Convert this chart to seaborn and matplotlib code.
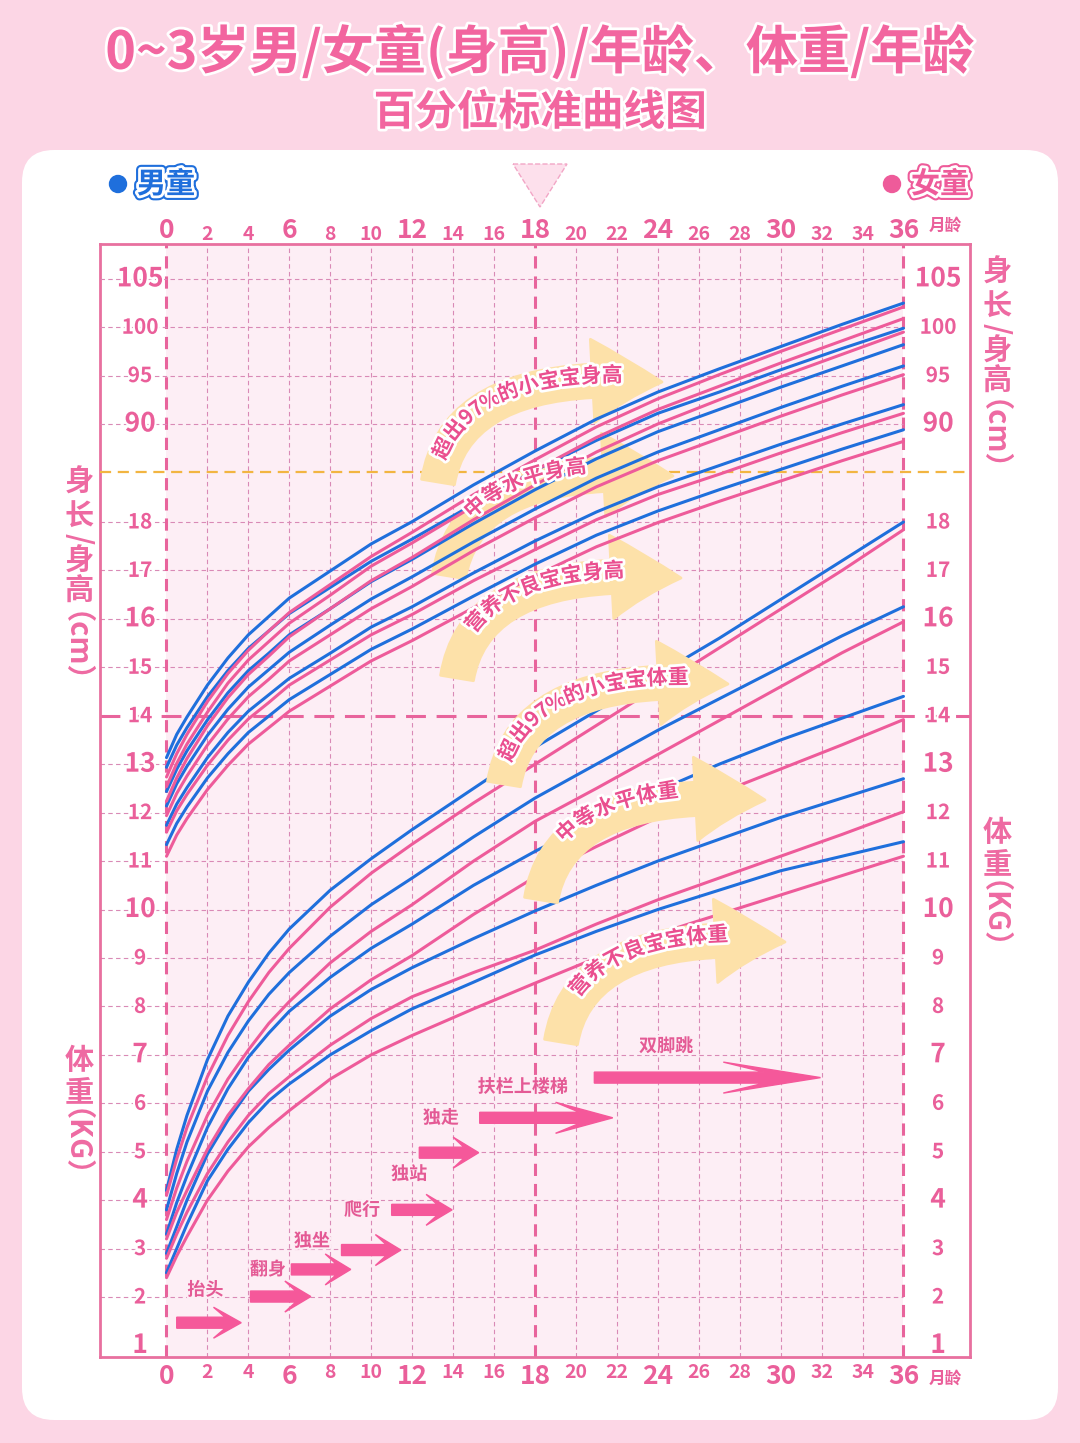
import numpy as np
import pandas as pd
import matplotlib
matplotlib.use("Agg")
import matplotlib.pyplot as plt
import matplotlib.patheffects as pe
import matplotlib.transforms as mtransforms
from matplotlib.patches import FancyBboxPatch, FancyArrowPatch, Polygon, Circle, ArrowStyle
from matplotlib.path import Path
import seaborn as sns

# ---- data ----
months = [0, 0.5, 1, 2, 3, 4, 5, 6, 8, 10, 12, 15, 18, 21, 24, 27, 30, 33, 36]

# height (cm), boys / girls
boy_height = [
    [55.5, 57.9, 59.7, 63.0, 65.8, 68.2, 70.1, 72.0, 74.8, 77.6, 79.9, 83.7, 87.2, 90.5, 93.3, 95.7, 98.0, 100.3, 102.5],
    [54.5, 56.8, 58.6, 61.8, 64.5, 66.8, 68.6, 70.4, 73.1, 75.8, 78.1, 81.7, 85.2, 88.3, 91.1, 93.3, 95.6, 97.8, 99.9],
    [52.0, 54.3, 56.2, 59.4, 62.2, 64.5, 66.3, 68.2, 70.9, 73.7, 76.0, 79.7, 83.2, 86.4, 89.2, 91.5, 93.8, 96.0, 98.2],
    [50.5, 52.8, 54.6, 57.8, 60.5, 62.8, 64.6, 66.4, 69.2, 71.9, 74.2, 77.8, 81.2, 84.4, 87.1, 89.4, 91.7, 93.9, 96.0],
    [48.5, 50.7, 52.4, 55.5, 58.1, 60.3, 62.0, 63.7, 66.3, 69.0, 71.1, 74.6, 77.9, 80.9, 83.5, 85.7, 87.9, 90.0, 92.0],
    [46.5, 48.7, 50.4, 53.4, 55.9, 58.1, 59.8, 61.5, 64.1, 66.7, 68.8, 72.2, 75.5, 78.5, 81.0, 83.2, 85.3, 87.4, 89.4],
]
girl_height = [
    [53.5, 55.9, 57.9, 61.3, 64.2, 66.6, 68.6, 70.5, 73.4, 76.3, 78.8, 82.7, 86.3, 89.7, 92.6, 95.1, 97.5, 99.8, 102.1],
    [52.5, 54.9, 56.9, 60.2, 63.2, 65.6, 67.5, 69.4, 72.3, 75.3, 77.7, 81.5, 85.2, 88.6, 91.5, 93.9, 96.3, 98.6, 100.9],
    [51.0, 53.4, 55.4, 58.8, 61.7, 64.1, 66.0, 68.0, 70.9, 73.8, 76.2, 80.1, 83.7, 87.1, 90.0, 92.5, 94.9, 97.2, 99.5],
    [49.5, 51.8, 53.6, 56.8, 59.5, 61.8, 63.6, 65.5, 68.2, 70.9, 73.2, 76.9, 80.3, 83.5, 86.2, 88.5, 90.8, 93.0, 95.1],
    [47.8, 50.0, 51.7, 54.7, 57.3, 59.5, 61.2, 63.0, 65.6, 68.2, 70.3, 73.8, 77.0, 80.1, 82.7, 84.8, 87.0, 89.1, 91.1],
    [45.3, 47.5, 49.2, 52.2, 54.7, 56.9, 58.6, 60.3, 62.9, 65.5, 67.6, 71.0, 74.3, 77.3, 79.8, 82.0, 84.1, 86.2, 88.2],
]
# weight (kg), boys / girls
boy_weight = [
    [4.2, 5.05, 5.75, 6.9, 7.8, 8.5, 9.1, 9.6, 10.4, 11.05, 11.65, 12.5, 13.35, 14.1, 14.85, 15.6, 16.4, 17.2, 18.0],
    [3.8, 4.55, 5.2, 6.25, 7.05, 7.7, 8.25, 8.7, 9.45, 10.1, 10.65, 11.5, 12.3, 13.0, 13.7, 14.35, 15.0, 15.65, 16.25],
    [3.3, 3.95, 4.5, 5.5, 6.3, 6.95, 7.45, 7.9, 8.6, 9.2, 9.7, 10.5, 11.2, 11.85, 12.45, 13.0, 13.5, 13.95, 14.4],
    [2.9, 3.45, 4.0, 4.95, 5.65, 6.25, 6.7, 7.1, 7.8, 8.35, 8.8, 9.4, 9.97, 10.5, 11.0, 11.45, 11.9, 12.3, 12.7],
    [2.5, 3.0, 3.5, 4.4, 5.05, 5.6, 6.05, 6.4, 7.0, 7.5, 7.95, 8.5, 9.06, 9.55, 10.0, 10.4, 10.8, 11.1, 11.4],
]
girl_weight = [
    [4.1, 4.85, 5.5, 6.55, 7.4, 8.1, 8.7, 9.2, 10.05, 10.75, 11.35, 12.2, 13.0, 13.8, 14.6, 15.4, 16.2, 17.0, 17.84],
    [3.6, 4.25, 4.8, 5.75, 6.5, 7.1, 7.65, 8.1, 8.9, 9.55, 10.1, 11.0, 11.82, 12.5, 13.2, 13.9, 14.6, 15.3, 15.94],
    [3.2, 3.75, 4.2, 5.05, 5.75, 6.3, 6.8, 7.2, 7.95, 8.55, 9.05, 9.9, 10.67, 11.3, 11.9, 12.4, 12.9, 13.4, 13.92],
    [2.8, 3.3, 3.75, 4.55, 5.2, 5.75, 6.2, 6.55, 7.2, 7.75, 8.2, 8.7, 9.16, 9.7, 10.2, 10.65, 11.1, 11.55, 12.02],
    [2.4, 2.85, 3.25, 4.0, 4.6, 5.1, 5.5, 5.85, 6.5, 7.0, 7.4, 7.95, 8.48, 9.0, 9.5, 9.9, 10.3, 10.7, 11.1],
]

month_ticks = list(range(0, 37, 2))
weight_ticks = list(range(1, 19))
height_ticks = [90, 95, 100, 105]
big_weight = [1, 4, 7, 10, 13, 16]
big_height = [90, 105]

# milestone arrows (month start/end, kg level) and labels
ms_start = [0.5, 4.1, 6.1, 8.55, 11.0, 12.35, 15.3, 20.9]
ms_end = [3.65, 7.05, 9.0, 11.45, 13.95, 15.25, 21.8, 31.95]
ms_level = [1.47, 2.01, 2.57, 2.97, 3.80, 4.98, 5.70, 6.53]
ms_labels = ['抬头', '翻身', '独坐', '爬行', '独站', '独走', '扶栏上楼梯', '双脚跳']
ms_label_m = [1.9, 4.95, 7.1, 9.55, 11.85, 13.4, 17.4, 24.4]
ms_label_kg = [2.15, 2.57, 3.16, 3.80, 4.54, 5.70, 6.34, 7.18]

notes = ['超出97%的小宝宝身高', '中等水平身高', '营养不良宝宝身高',
         '超出97%的小宝宝体重', '中等水平体重', '营养不良宝宝体重']

# ---- colours ----
BLUE = '#1f6fdc'
PINK = '#ee5b9a'
TXT = '#ea5f9a'
BORDER = '#e8709f'
GRID = '#d98ab6'
THICK = '#e8649c'
FILL = '#fdeef5'
CREAM = '#fde1a9'
ARROW = '#f5589a'
ORANGE = '#f2b541'

sns.set_theme(style='white')
plt.rcParams['font.family'] = ['Noto Sans CJK SC', 'DejaVu Sans']
plt.rcParams['axes.unicode_minus'] = False

W, H = 1080, 1443
fig = plt.figure(figsize=(W / 100, H / 100), dpi=100, facecolor='#fcd6e5')
pix = mtransforms.Affine2D().scale(0.01, -0.01).translate(0, H / 100) + fig.dpi_scale_trans

# background panel, titles, legend
bg = fig.add_axes([0, 0, 1, 1], zorder=-5)
bg.set_xlim(0, W)
bg.set_ylim(H, 0)
bg.axis('off')
bg.add_patch(FancyBboxPatch((22, 150), 1036, 1270, boxstyle='round,pad=0,rounding_size=32',
                            fc='white', ec='none'))
title_fx = [pe.withStroke(linewidth=4, foreground='white')]
bg.text(540, 52, '0~3岁男/女童(身高)/年龄、体重/年龄', ha='center', va='center', fontsize=37.5,
        fontweight='heavy', color='#f2659f', path_effects=title_fx)
bg.text(540, 113, '百分位标准曲线图', ha='center', va='center', fontsize=30,
        fontweight='heavy', color='#f2659f', path_effects=title_fx)

for cx, col, name in [(118, BLUE, '男童'), (892, PINK, '女童')]:
    bg.add_patch(Circle((cx, 184), 8.5, color=col))
    bg.text(cx + 48, 184, name, ha='center', va='center', fontsize=21, fontweight='heavy', color=col,
            path_effects=[pe.Stroke(linewidth=7, foreground=col), pe.Stroke(linewidth=4, foreground='white'),
                          pe.Normal()])

bg.add_patch(Polygon([(513, 164), (567, 164), (540, 207)], closed=True, fc='#fde0ec', ec='#f2a6c6',
                     ls='--', lw=1))
for yy in (226, 1379):
    bg.text(945, yy, '月龄', ha='center', va='center', fontsize=12, fontweight='bold', color=TXT)


def stack(x, items, size=21):
    for s, y, rot in items:
        dx = -19 if len(s) > 1 else 0
        bg.text(x + dx, y, s, rotation=rot, ha='center', va='center', fontsize=size,
                fontweight='bold', color='#ee6aa2')


stack(79, [('身', 482, 0), ('长', 517, 0), ('/', 539, -90), ('身', 561, 0), ('高', 591, 0), ('（cm）', 662, -90)])
stack(997, [('身', 272, 0), ('长', 307, 0), ('/', 329, -90), ('身', 351, 0), ('高', 381, 0), ('（cm）', 450, -90)])
stack(79, [('体', 1060, 0), ('重', 1092, 0), ('（KG）', 1158, -90)])
stack(997, [('体', 832, 0), ('重', 864, 0), ('（KG）', 930, -90)])

# ---- main axes: weight on ax_w, height on twin ax_h ----
ax_w = fig.add_axes([100 / W, 1 - 1357 / H, 870 / W, 1113 / H])
ax_w.set_facecolor('white')
ax_h = ax_w.twinx()

rows = []
for sex, curves in (('男童', boy_weight), ('女童', girl_weight)):
    for i, vals in enumerate(curves):
        for m, v in zip(months, vals):
            rows.append((m, v, sex, f'{sex}{i}'))
df_w = pd.DataFrame(rows, columns=['month', 'value', 'sex', 'curve'])
rows = []
for sex, curves in (('男童', boy_height), ('女童', girl_height)):
    for i, vals in enumerate(curves):
        for m, v in zip(months, vals):
            rows.append((m, v, sex, f'{sex}{i}'))
df_h = pd.DataFrame(rows, columns=['month', 'value', 'sex', 'curve'])

pal = {'男童': BLUE, '女童': PINK}
sns.lineplot(data=df_w, x='month', y='value', hue='sex', units='curve', estimator=None,
             hue_order=['男童', '女童'], palette=pal, lw=2.2, legend=False, ax=ax_w, zorder=3)
sns.lineplot(data=df_h, x='month', y='value', hue='sex', units='curve', estimator=None,
             hue_order=['男童', '女童'], palette=pal, lw=2.2, legend=False, ax=ax_h, zorder=4)

XL = (-3.248, 39.25)
ax_w.set_xlim(*XL)
ax_w.set_ylim(0.762, 23.739)
ax_h.set_ylim(-6.48, 108.61)
for a in (ax_w, ax_h):
    a.set_xlabel('')
    a.set_ylabel('')
    a.set_yticks([])
for s in ax_h.spines.values():
    s.set_visible(False)
for s in ax_w.spines.values():
    s.set_color(BORDER)
    s.set_linewidth(2)

# pink field and grid
ax_w.axvspan(0, 36, color=FILL, lw=0, zorder=0)
for m in month_ticks:
    if m not in (0, 18, 36):
        ax_w.axvline(m, color=GRID, lw=0.8, ls=(0, (4, 3)), zorder=1)
for w in weight_ticks[1:]:
    if w != 14:
        ax_w.hlines(w, XL[0], 36, color=GRID, lw=0.8, ls=(0, (4, 3)), zorder=1)
for h in height_ticks:
    ax_h.hlines(h, XL[0], 36, color=GRID, lw=0.8, ls=(0, (4, 3)), zorder=1)
for m in (0, 18, 36):
    ax_w.axvline(m, color=THICK, lw=2.2, ls=(0, (4, 2.6)), zorder=2)
ax_w.axhline(14, color=THICK, lw=2.2, ls=(0, (6.5, 3.5)), zorder=2)
ax_h.axhline(85, color=ORANGE, lw=1.6, ls=(0, (5, 3)), zorder=1)

# x tick labels bottom and top
ax_w.set_xticks(month_ticks, labels=[str(m) for m in month_ticks])
ax_w.tick_params(axis='x', length=0, pad=4)
sec = ax_w.secondary_xaxis('top')
sec.set_xticks(month_ticks, labels=[str(m) for m in month_ticks])
sec.tick_params(length=0, pad=0)
for s in sec.spines.values():
    s.set_visible(False)
for lab in list(ax_w.get_xticklabels()) + list(sec.get_xticklabels()):
    big = int(lab.get_text()) % 6 == 0
    lab.set_fontsize(19 if big else 14)
    lab.set_fontweight('bold')
    lab.set_color(TXT)

# y labels inside the frame, both sides
lab_fx = [pe.withStroke(linewidth=3, foreground='white')]
for w in weight_ticks:
    for xm in (-1.29, 37.69):
        ax_w.text(xm, w, str(w), ha='center', va='center', fontsize=19 if w in big_weight else 15,
                  fontweight='bold', color=TXT, zorder=6, path_effects=lab_fx)
for h in height_ticks:
    for xm in (-1.29, 37.69):
        ax_h.text(xm, h, str(h), ha='center', va='center', fontsize=19 if h in big_height else 15,
                  fontweight='bold', color=TXT, zorder=6, path_effects=lab_fx)

# curved cream arrows with text along them
tmpl = np.array([[-224, 100], [-205, -15], [0, 0]], float)
note_tips = [(662, 382), (673, 476), (681, 578), (728, 684), (765, 800), (785, 942)]
note_t0 = [0.1, 0.28, 0.22, 0.1, 0.28, 0.22]
note_off = [5, 10, 6, 5, 10, 6]


def bez(P, t):
    return (1 - t) ** 2 * P[0] + 2 * (1 - t) * t * P[1] + t ** 2 * P[2]


fs = 15
em = fs * 100 / 72
for text, tip, t0, off in zip(notes, note_tips, note_t0, note_off):
    P = tmpl + np.array(tip, float)
    arr = FancyArrowPatch(path=Path(P, [Path.MOVETO, Path.CURVE3, Path.CURVE3]),
                          arrowstyle=ArrowStyle('simple', head_length=50, head_width=60, tail_width=24),
                          mutation_scale=1, transform=pix, fc=CREAM, ec=CREAM, lw=2,
                          joinstyle='round', zorder=2)
    ax_h.add_artist(arr)
    ts = np.linspace(0, 1, 801)
    pts = np.array([bez(P, t) for t in ts])
    s = np.concatenate([[0], np.cumsum(np.hypot(*np.diff(pts, axis=0).T))])
    pos = np.interp(t0, ts, s)
    for ch in text:
        adv = em * (0.6 if ch.isdigit() else (0.85 if ch == '%' else 1.0))
        t = np.interp(pos + adv / 2, s, ts)
        d = 2 * (1 - t) * (P[1] - P[0]) + 2 * t * (P[2] - P[1])
        d = d / np.hypot(*d)
        xy = bez(P, t) + off * np.array([d[1], -d[0]])
        ang = np.degrees(np.arctan2(-d[1], d[0]))
        ax_h.text(xy[0], xy[1], ch, transform=pix, rotation=ang, rotation_mode='anchor',
                  ha='center', va='center', fontsize=fs, fontweight='bold', color='#ea4f8f', zorder=7,
                  path_effects=[pe.withStroke(linewidth=4, foreground='white')])
        pos += adv

# milestone arrows
for m0, m1, lv in zip(ms_start, ms_end, ms_level):
    (x0, y), (x1, _) = ax_w.transData.transform([(m0, lv), (m1, lv)])
    hl = 0.43 * (x1 - x0)
    xb = x1 - hl
    xa = xb + 0.42 * hl
    hh, tw = 15.5, 5.5
    pts = [(x0, y + tw), (xa, y + tw), (xb, y + hh), (x1, y), (xb, y - hh), (xa, y - tw), (x0, y - tw)]
    ax_w.add_artist(Polygon(pts, closed=True, transform=mtransforms.IdentityTransform(),
                            fc=ARROW, ec=ARROW, lw=1, zorder=5))
for name, m, kg in zip(ms_labels, ms_label_m, ms_label_kg):
    ax_w.text(m, kg, name, ha='center', va='center', fontsize=13, fontweight='bold', color='#e45a95',
              zorder=6, path_effects=[pe.withStroke(linewidth=3, foreground=FILL)])

fig.savefig('out.png', dpi=100, facecolor=fig.get_facecolor())
